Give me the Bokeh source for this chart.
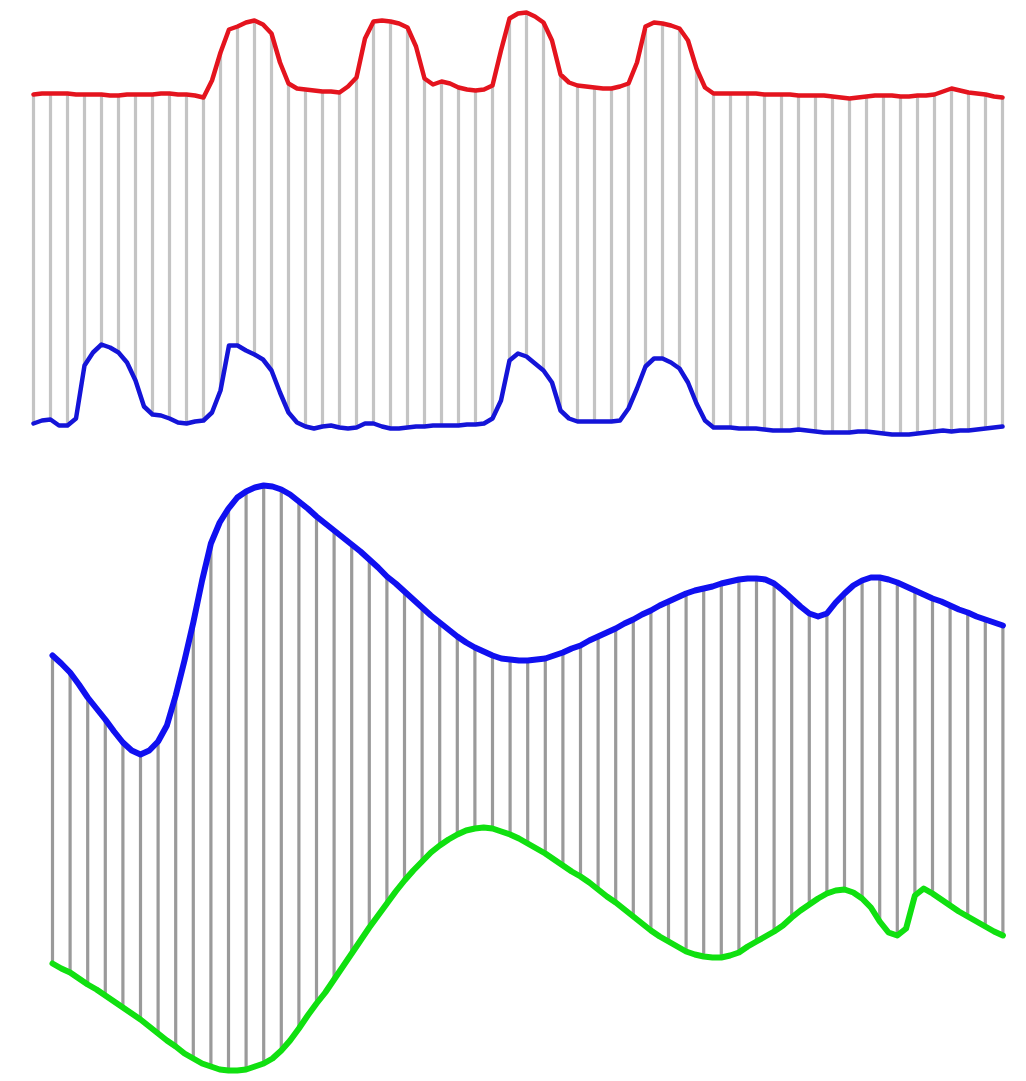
from bokeh.plotting import figure
from bokeh.layouts import column
from bokeh.models import Range1d, ColumnDataSource
from bokeh.embed import file_html
from bokeh.resources import INLINE

# ---------------- data ----------------
# Curves are read at half-sample steps; hatch lines sit on the whole samples.
# Top panel: index 0, 0.5, ..., 57 ; levels measured downward
top_red = [94, 93, 93, 93, 93, 94, 94, 94, 94, 95,
           95, 94, 94, 94, 94, 93, 93, 94, 94, 95,
           97, 80, 52, 29, 26, 22, 20, 24, 33, 62,
           83, 88, 89, 90, 91, 91, 92, 86, 77, 38,
           21, 20, 21, 23, 27, 46, 78, 84, 81, 83,
           87, 89, 90, 89, 85, 50, 18, 13, 12, 16,
           22, 40, 74, 82, 85, 86, 87, 88, 88, 86,
           83, 62, 26, 22, 23, 25, 28, 40, 68, 87,
           93, 93, 93, 93, 93, 93, 94, 94, 94, 94,
           95, 95, 95, 95, 96, 97, 98, 97, 96, 95,
           95, 95, 96, 96, 95, 95, 94, 91, 88, 90,
           92, 93, 94, 96, 97]
top_blue = [423, 420, 419, 425, 425, 418, 365, 352, 344, 347,
            352, 362, 380, 406, 414, 415, 418, 422, 423, 421,
            420, 412, 390, 345, 345, 350, 354, 359, 370, 392,
            412, 422, 426, 428, 426, 425, 427, 428, 427, 423,
            423, 426, 428, 428, 427, 426, 426, 425, 425, 425,
            425, 424, 424, 423, 418, 400, 360, 353, 356, 363,
            370, 382, 410, 418, 421, 421, 421, 421, 421, 420,
            408, 388, 366, 358, 358, 362, 368, 382, 403, 420,
            427, 427, 427, 428, 428, 428, 429, 430, 430, 430,
            429, 430, 431, 432, 432, 432, 432, 431, 431, 432,
            433, 434, 434, 434, 433, 432, 431, 430, 431, 430,
            430, 429, 428, 427, 426]

# Bottom panel: index 0, 0.5, ..., 54 ; levels measured from window top
bot_blue = [655, 663, 672, 684, 697, 708, 719, 731, 742, 750,
            754, 750, 741, 725, 695, 660, 622, 580, 543, 522,
            508, 497, 491, 487, 485, 486, 489, 494, 501, 508,
            516, 523, 530, 537, 544, 551, 559, 567, 576, 583,
            591, 599, 607, 615, 622, 629, 636, 642, 647, 651,
            655, 658, 659, 660, 660, 659, 658, 655, 652, 648,
            645, 640, 636, 632, 628, 623, 619, 614, 610, 605,
            601, 597, 593, 590, 588, 586, 583, 581, 579, 578,
            578, 579, 583, 590, 598, 606, 613, 616, 613, 602,
            593, 585, 580, 577, 577, 579, 582, 586, 590, 594,
            598, 601, 605, 609, 612, 616, 619, 622, 625]
bot_green = [963, 968, 972, 978, 984, 989, 995, 1001, 1007, 1013,
             1019, 1026, 1033, 1040, 1046, 1053, 1058, 1063, 1066, 1069,
             1070, 1070, 1069, 1066, 1063, 1058, 1050, 1040, 1028, 1015,
             1003, 992, 979, 966, 953, 940, 927, 915, 903, 891,
             880, 870, 861, 852, 845, 839, 834, 830, 828, 827,
             828, 831, 834, 838, 843, 848, 853, 859, 865, 871,
             876, 882, 889, 896, 902, 909, 916, 923, 930, 936,
             941, 946, 951, 954, 956, 957, 957, 955, 952, 946,
             941, 936, 931, 925, 917, 910, 904, 898, 893, 890,
             889, 892, 898, 907, 921, 932, 935, 928, 895, 888,
             893, 899, 905, 911, 916, 921, 926, 931, 935]

top_idx = [j / 2 for j in range(len(top_red))]
bot_idx = [j / 2 for j in range(len(bot_blue))]

# ---------------- layout ----------------
W = 1026
H_TOP = 460
H_BOT = 1081 - H_TOP

def base_fig(h, xr, yr):
    p = figure(width=W, height=h, x_range=xr, y_range=yr,
               output_backend="svg", toolbar_location=None,
               x_axis_location=None, y_axis_location=None,
               min_border=0, min_border_left=0, min_border_right=0,
               min_border_top=0, min_border_bottom=0)
    p.grid.visible = False
    p.outline_line_color = None
    p.background_fill_color = "white"
    p.border_fill_color = "white"
    return p

# top: sample k sits at pixel 33 + 17k
t0, ts = 33.0, 17.0
p1 = base_fig(H_TOP, Range1d(-t0 / ts, (W - t0) / ts), Range1d(H_TOP, 0))
src1 = ColumnDataSource(dict(x=top_idx, r=top_red, b=top_blue))
hatch1 = ColumnDataSource(dict(x=top_idx[::2], r=top_red[::2], b=top_blue[::2]))
p1.segment(x0="x", y0="r", x1="x", y1="b", source=hatch1, line_color="#c4c4c4", line_width=3.2)
p1.line(x="x", y="r", source=src1, line_color="#e4141e", line_width=4.5, line_join="round", line_cap="round")
p1.line(x="x", y="b", source=src1, line_color="#1414d8", line_width=4.5, line_join="round", line_cap="round")

# bottom: sample k sits at pixel 52 + 17.6k
b0, bs = 52.0, 17.6
p2 = base_fig(H_BOT, Range1d(-b0 / bs, (W - b0) / bs), Range1d(1081, H_TOP))
src2 = ColumnDataSource(dict(x=bot_idx, b=bot_blue, g=bot_green))
hatch2 = ColumnDataSource(dict(x=bot_idx[::2], b=bot_blue[::2], g=bot_green[::2]))
p2.segment(x0="x", y0="b", x1="x", y1="g", source=hatch2, line_color="#9a9a9a", line_width=3.2)
p2.line(x="x", y="b", source=src2, line_color="#1010f0", line_width=6, line_join="round", line_cap="round")
p2.line(x="x", y="g", source=src2, line_color="#10e010", line_width=6, line_join="round", line_cap="round")

layout = column(p1, p2, spacing=0)
open("out.html", "w").write(file_html(layout, INLINE))
